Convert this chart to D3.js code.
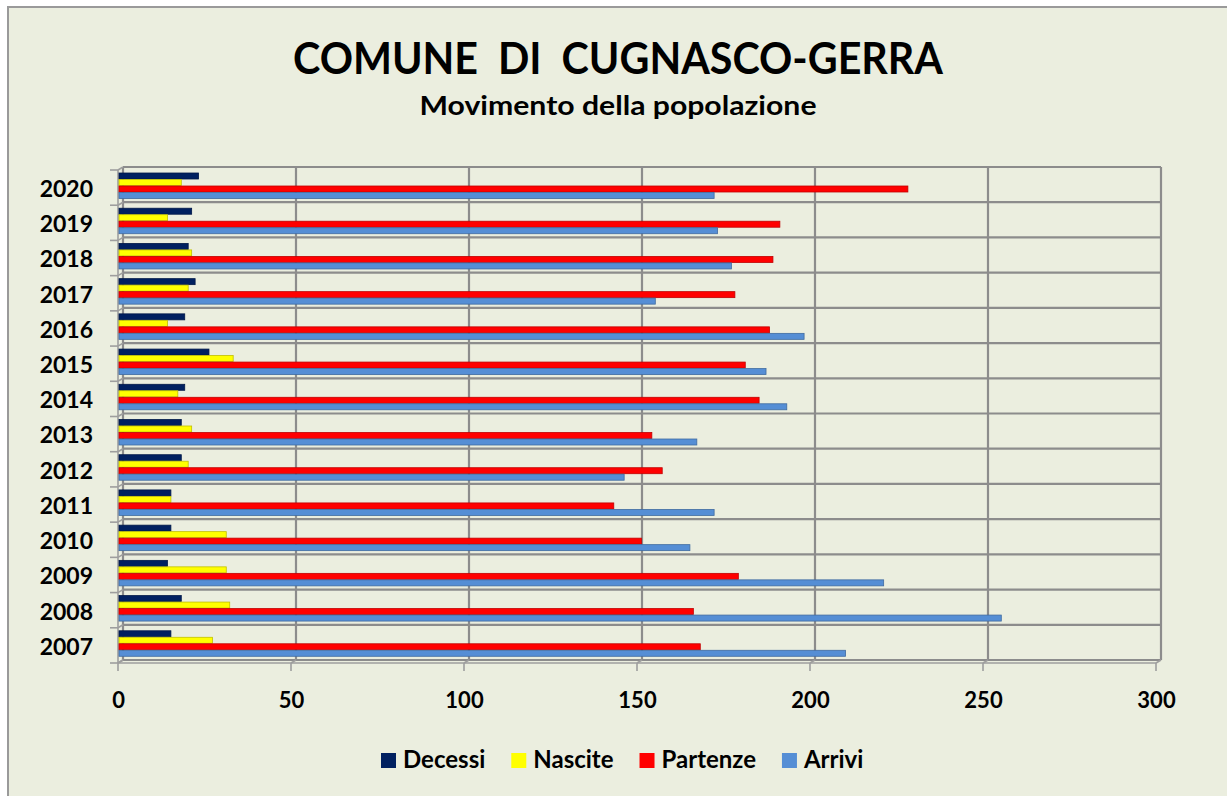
<!DOCTYPE html>
<html>
<head>
<meta charset="utf-8">
<script src="https://cdn.jsdelivr.net/npm/d3@7"></script>
<style>
    body { margin: 0; background: #ffffff; }
    svg text { font-family: Lato, "Open Sans", sans-serif; font-weight: bold; fill: #000; }
</style>
</head>
<body>
<div id="chart"></div>
<script>
// Data, 2007 -> 2020
const years = [2007, 2008, 2009, 2010, 2011, 2012, 2013, 2014, 2015, 2016, 2017, 2018, 2019, 2020];
const seriesNames = ["Decessi", "Nascite", "Partenze", "Arrivi"];
const decessi = [15, 18, 14, 15, 15, 18, 18, 19, 26, 19, 22, 20, 21, 23];
const nascite = [27, 32, 31, 31, 15, 20, 21, 17, 33, 14, 20, 21, 14, 18];
const partenze = [168, 166, 179, 151, 143, 157, 154, 185, 181, 188, 178, 189, 191, 228];
const arrivi = [210, 255, 221, 165, 172, 146, 167, 193, 187, 198, 155, 177, 173, 172];
const xTicks = [0, 50, 100, 150, 200, 250, 300];

const colors = ["#002060", "#ffff00", "#ff0000", "#558ed5"];

class HBarChart {

    constructor(parentElement) {
        this.parentElement = parentElement;
        this.initVis();
    }

    initVis() {
        let vis = this;
        vis.W = 1227;
        vis.H = 796;

        // front plane of the plot, back wall is shifted by depth
        vis.left = 118;
        vis.right = 1156;
        vis.top = 170;
        vis.bottom = 663;
        vis.dx = 5;
        vis.dy = -3;

        vis.svg = d3.select("#" + vis.parentElement).append("svg")
            .attr("width", vis.W)
            .attr("height", vis.H);

        // chart area frame
        vis.svg.append("rect")
            .attr("x", 8).attr("y", 7)
            .attr("width", vis.W + 20).attr("height", vis.H + 20)
            .attr("fill", "#ebeedf")
            .attr("stroke", "#9a9a9a")
            .attr("stroke-width", 2);

        vis.x = d3.scaleLinear().domain([0, 300]).range([vis.left, vis.right]);

        vis.y = d3.scaleBand()
            .domain(years.slice().reverse())
            .range([vis.top, vis.bottom])
            .padding(0);

        // bars inside each year band
        vis.ySub = d3.scaleBand()
            .domain(seriesNames)
            .range([3, 29]);

        vis.wrangleData();
    }

    wrangleData() {
        let vis = this;
        let cols = [decessi, nascite, partenze, arrivi];
        vis.displayData = [];
        years.forEach((yr, i) => {
            seriesNames.forEach((s, j) => {
                vis.displayData.push({ year: yr, series: s, value: cols[j][i], color: colors[j] });
            });
        });
        vis.updateVis();
    }

    updateVis() {
        let vis = this;
        let grid = vis.svg.append("g");
        let bounds = vis.y.domain().map(d => vis.y(d)).concat([vis.bottom]);

        // back wall gridlines
        bounds.forEach(b => {
            grid.append("line")
                .attr("x1", vis.left + vis.dx).attr("x2", vis.right + vis.dx)
                .attr("y1", b + vis.dy).attr("y2", b + vis.dy)
                .attr("stroke", "#8c8c8c").attr("stroke-width", 2.2);
        });
        xTicks.forEach(t => {
            grid.append("line")
                .attr("x1", vis.x(t) + vis.dx).attr("x2", vis.x(t) + vis.dx)
                .attr("y1", vis.top + vis.dy).attr("y2", vis.bottom + vis.dy)
                .attr("stroke", "#8c8c8c").attr("stroke-width", 2.2);
        });

        // floor and side wall edges
        let axes = vis.svg.append("g").attr("stroke", "#9e9e9e").attr("stroke-width", 1.6).attr("fill", "none");
        axes.append("line")
            .attr("x1", vis.left).attr("x2", vis.left)
            .attr("y1", vis.top).attr("y2", vis.bottom);
        axes.append("line")
            .attr("x1", vis.left).attr("x2", vis.right)
            .attr("y1", vis.bottom).attr("y2", vis.bottom);
        bounds.forEach(b => {
            axes.append("line")
                .attr("x1", vis.left).attr("y1", b)
                .attr("x2", vis.left + vis.dx).attr("y2", b + vis.dy);
            axes.append("line")
                .attr("x1", vis.left - 8).attr("x2", vis.left)
                .attr("y1", b).attr("y2", b);
        });
        xTicks.forEach(t => {
            axes.append("line")
                .attr("x1", vis.x(t)).attr("y1", vis.bottom)
                .attr("x2", vis.x(t) + vis.dx).attr("y2", vis.bottom + vis.dy);
            axes.append("line")
                .attr("x1", vis.x(t)).attr("x2", vis.x(t))
                .attr("y1", vis.bottom).attr("y2", vis.bottom + 8);
        });

        // bars
        vis.svg.append("g").selectAll("rect")
            .data(vis.displayData)
            .enter().append("rect")
            .attr("x", vis.x(0) + 1)
            .attr("y", d => vis.y(d.year) + vis.ySub(d.series))
            .attr("width", d => vis.x(d.value) - vis.x(0))
            .attr("height", vis.ySub.bandwidth() - 0.5)
            .attr("fill", d => d.color)
            .attr("stroke", d => d3.color(d.color).darker(0.8))
            .attr("stroke-width", 0.8);

        // y axis labels
        vis.yAxis = d3.axisLeft(vis.y).tickSize(0).tickPadding(25);
        let yg = vis.svg.append("g")
            .attr("transform", "translate(" + vis.left + ",2)")
            .call(vis.yAxis);
        yg.select(".domain").remove();
        yg.selectAll("text").attr("font-size", 23).style("font-family", "Lato, sans-serif").style("font-weight", "bold");

        // x axis labels
        vis.xAxis = d3.axisBottom(vis.x).tickValues(xTicks).tickSize(0).tickPadding(29);
        let xg = vis.svg.append("g")
            .attr("transform", "translate(0," + vis.bottom + ")")
            .call(vis.xAxis);
        xg.select(".domain").remove();
        xg.selectAll("text").attr("font-size", 22).style("font-family", "Lato, sans-serif").style("font-weight", "bold");

        // titles
        vis.svg.append("text")
            .attr("x", 618).attr("y", 74)
            .attr("text-anchor", "middle")
            .attr("font-size", 43)
            .attr("textLength", 650)
            .attr("lengthAdjust", "spacingAndGlyphs")
            .style("white-space", "pre")
            .text("COMUNE  DI  CUGNASCO-GERRA");

        vis.svg.append("text")
            .attr("x", 618).attr("y", 115)
            .attr("text-anchor", "middle")
            .attr("font-size", 26)
            .attr("textLength", 397)
            .attr("lengthAdjust", "spacingAndGlyphs")
            .text("Movimento della popolazione");

        // legend
        let legend = vis.svg.append("g").attr("transform", "translate(0,760)");
        let lx = 381;
        seriesNames.forEach((s, i) => {
            legend.append("rect")
                .attr("x", lx).attr("y", -7)
                .attr("width", 15).attr("height", 15)
                .attr("fill", colors[i]);
            let t = legend.append("text")
                .attr("x", lx + 22).attr("y", 8)
                .attr("font-size", 24)
                .text(s);
            lx += 22 + t.node().getComputedTextLength() + 26;
        });
    }
}

new HBarChart("chart");
</script>
</body>
</html>
